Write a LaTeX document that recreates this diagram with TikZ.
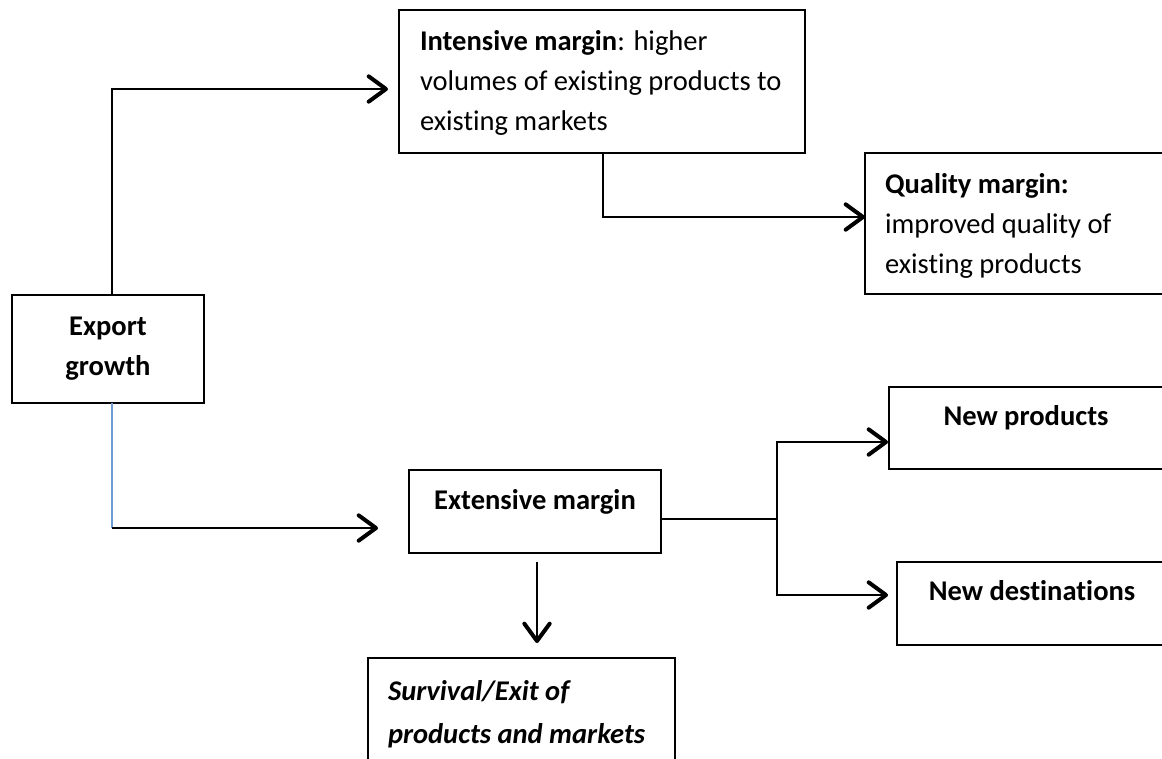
\documentclass[tikz,border=0pt]{standalone}
\usepackage{fontspec}
\setmainfont[Ligatures=NoCommon]{Carlito}
\usetikzlibrary{arrows.meta,fit,calc}
\definecolor{lineblue}{RGB}{110,155,210}
\tikzset{
  box/.style={draw=black, line width=1.3pt, inner sep=0pt, outer sep=0pt},
  txt/.style={inner sep=0pt, outer sep=0pt, align=left, font=\fontsize{21.4pt}{30pt}\selectfont},
  conn/.style={draw=black, line width=1.4pt},
  arr/.style={conn, -{Straight Barb[length=13pt,width=19pt,line width=3pt,round]}},
  bluelink/.style={draw=lineblue, line width=1.1pt}
}
\begin{document}
\begin{tikzpicture}[x=0.75pt,y=-0.75pt]
\useasboundingbox (0,0) rectangle (1162,758);
\clip (0,0) rectangle (1162,758);

% boxes
\node[box, fit={(12,295) (204,403)}] (export) {};
\node[box, fit={(399,10) (805,153)}] (intensive) {};
\node[box, fit={(865,153) (1180,294)}] (quality) {};
\node[box, fit={(409,470) (661,553)}] (extensive) {};
\node[box, fit={(889,387) (1180,469)}] (newprod) {};
\node[box, fit={(897,562) (1180,645)}] (newdest) {};
\node[box, fit={(368,658) (675,790)}] (survival) {};

% texts (base anchor = baseline of the last line)
\node[txt, align=center, anchor=base] (exportt) at (108,375) {\textbf{Export}\\\textbf{growth}};
\node[txt, anchor=base west] (intensivet) at (420,130) {\textbf{Intensive margin}: higher\\volumes of existing products to\\existing markets};
\node[txt, anchor=base west] (qualityt) at (885,273) {\textbf{Quality margin:}\\improved quality of\\existing products};
\node[txt, anchor=base] (extensivet) at (535,509) {\textbf{Extensive margin}};
\node[txt, anchor=base] (newprodt) at (1026,425) {\textbf{New products}};
\node[txt, anchor=base] (newdestt) at (1032,600) {\textbf{New destinations}};
\node[txt, anchor=base west, font=\fontsize{21.4pt}{32pt}\selectfont] (survivalt) at (388,743) {\textbf{\textit{Survival/Exit of}}\\\textbf{\textit{products and markets}}};

% connector coordinates
\coordinate (trunk) at (112,89);
\coordinate (tipI) at (388,89);
\coordinate (tipE) at (378,528);
\coordinate (qbend) at (603,217);
\coordinate (fork) at (777,519);
\coordinate (npin) at (888,442);
\coordinate (ndin) at (888,595);
\coordinate (dtop) at (537,562);
\coordinate (dtip) at (537,643);

% connectors
\draw[arr] (export.north -| trunk) |- (tipI);
\draw[bluelink] (export.south -| trunk) -- (trunk |- tipE);
\draw[arr] (trunk |- tipE) -- (tipE);
\draw[arr] (intensive.south -| qbend) |- (quality.west |- qbend);
\draw[conn] (extensive.east |- fork) -- (fork);
\draw[arr] (fork) |- (npin);
\draw[arr] (fork) |- (ndin);
\draw[arr] (dtop) -- (dtip);
\end{tikzpicture}
\end{document}
